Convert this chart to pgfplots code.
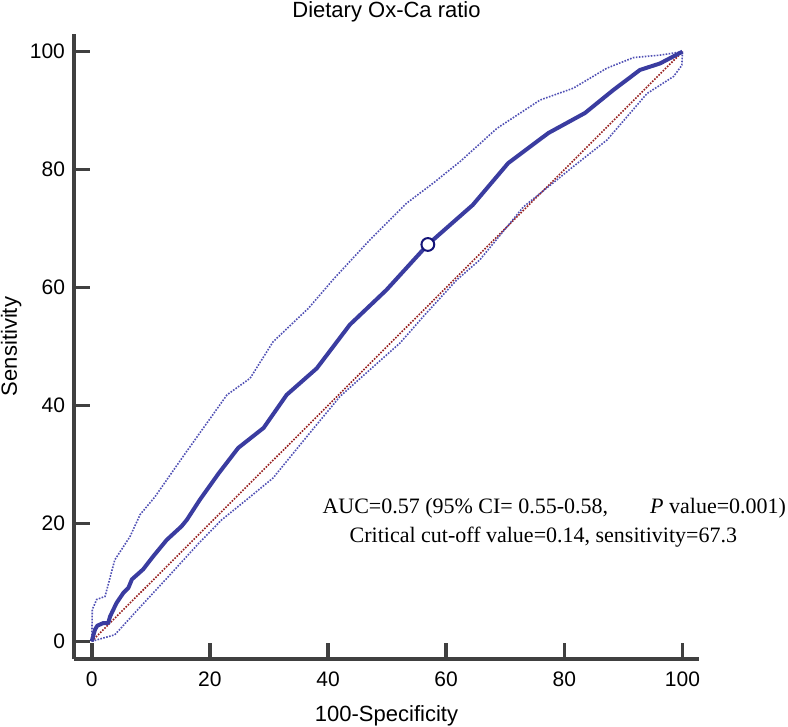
\documentclass[border=0pt]{standalone}
\usepackage{fontspec}
\setmainfont{Liberation Sans}
\newfontfamily\timesfont{Liberation Serif}
\usepackage{pgfplots}
\pgfplotsset{compat=1.18}

\definecolor{roc}{RGB}{58,60,160}
\definecolor{cib}{RGB}{80,80,180}
\definecolor{diag}{RGB}{150,30,30}
\definecolor{axgray}{RGB}{64,64,64}
\definecolor{navy}{RGB}{20,20,120}

\begin{document}
\begin{tikzpicture}
\useasboundingbox (-37pt,-34pt) rectangle (357pt,329.5pt);
\begin{axis}[
    at={(0,0)}, anchor=south west,
    scale only axis,
    width=312.5pt, height=312.5pt,
    xmin=-3, xmax=102.8,
    ymin=-3, ymax=103,
    axis x line*=bottom,
    axis y line*=left,
    axis line style={-, line width=1.8pt, axgray},
    xtick={0,20,40,60,80,100},
    ytick={0,20,40,60,80,100},
    tick align=inside,
    major tick length=8pt,
    tick style={line width=1.8pt, axgray},
    /pgf/number format/assume math mode=true,
    tick label style={font=\fontsize{10.5}{12}\selectfont, black},
    xticklabel style={yshift=-3pt},
    yticklabel style={xshift=-1pt},
    clip=false,
]
% chance line
\addplot[diag, line width=0.8pt, dash pattern=on 0.8pt off 0.7pt] coordinates {(0,0) (100,100)};

% upper confidence bound
\addplot[cib, line width=0.8pt, dash pattern=on 0.8pt off 0.7pt] coordinates {
(0,0) (0.1,5.4) (0.85,7.1) (2.25,7.6) (3.9,13.8) (6.5,17.8) (8.2,21.5) (10.7,24.5)
(15.5,31.4) (22.9,41.8) (26.8,44.6) (30.7,50.8) (36.7,56.5) (41,61.5) (47.1,68.1)
(53.3,74.3) (57.8,77.7) (62.4,81.4) (68.6,87) (75.9,91.8) (81.5,93.8) (87.2,97.2)
(91.7,99) (96.1,99.4) (100,100)
};

% lower confidence bound
\addplot[cib, line width=0.8pt, dash pattern=on 0.8pt off 0.7pt] coordinates {
(0,0) (3.9,1.1) (8,5.6) (13,11) (18,16.5) (22,20.6) (26.2,24) (30.7,27.7)
(36.4,34.7) (42,41.5) (47.7,46.6) (52.2,50.6) (56.5,55.5) (61.8,61.3) (65.7,64.7)
(73.1,73.7) (81.5,80.5) (87.2,85) (94,92.9) (98.5,95.8) (99.9,97.7) (100,100)
};

% ROC curve
\addplot[roc, line width=2pt, line join=round] coordinates {
(0,0) (0.56,2.0) (0.95,2.65) (1.97,3.1) (2.8,3.1) (3.1,4.2) (4.2,6.5) (5.35,8.2)
(6.2,9.05) (6.8,10.5) (8.7,12.2) (10.4,14.4) (12.7,17.2) (15.2,19.5) (16.1,20.6)
(18.3,24) (21.5,28.5) (24.8,32.8) (29.1,36.2) (33,41.8) (38.1,46.3) (43.7,53.7)
(49.9,59.6) (56.9,67.3) (64.5,74) (70.5,81.1) (77.3,86.2) (83.5,89.6) (88.3,93.5)
(92.8,96.9) (96.2,98) (97.9,98.9) (100,100)
};

% cut-off point
\addplot[only marks, mark=*, mark size=3.2pt,
    mark options={fill=white, draw=navy, line width=1pt}] coordinates {(56.9,67.3)};

% title and axis labels
\node[anchor=base, font=\fontsize{11}{13}\selectfont] at ([yshift=8pt]rel axis cs:0.5,1) {Dietary Ox-Ca ratio};
\node[anchor=base, font=\fontsize{11}{13}\selectfont] at ([yshift=-31.3pt]rel axis cs:0.5,0) {100-Specificity};
\node[anchor=base, rotate=90, font=\fontsize{11}{13}\selectfont] at ([xshift=-28.5pt]rel axis cs:0,0.5) {Sensitivity};

% annotation
\node[anchor=base west, font=\timesfont\fontsize{11}{13}\selectfont, inner sep=0pt] at (axis cs:39,21.6) {AUC=0.57 (95\% CI= 0.55-0.58,};
\node[anchor=base east, font=\timesfont\fontsize{11}{13}\selectfont, inner sep=0pt] at (axis cs:117.6,21.6) {\textit{P} value=0.001)};
\node[anchor=base east, font=\timesfont\fontsize{11}{13}\selectfont, inner sep=0pt] at (axis cs:109.3,16.7) {Critical cut-off value=0.14, sensitivity=67.3};
\end{axis}
\end{tikzpicture}
\end{document}
